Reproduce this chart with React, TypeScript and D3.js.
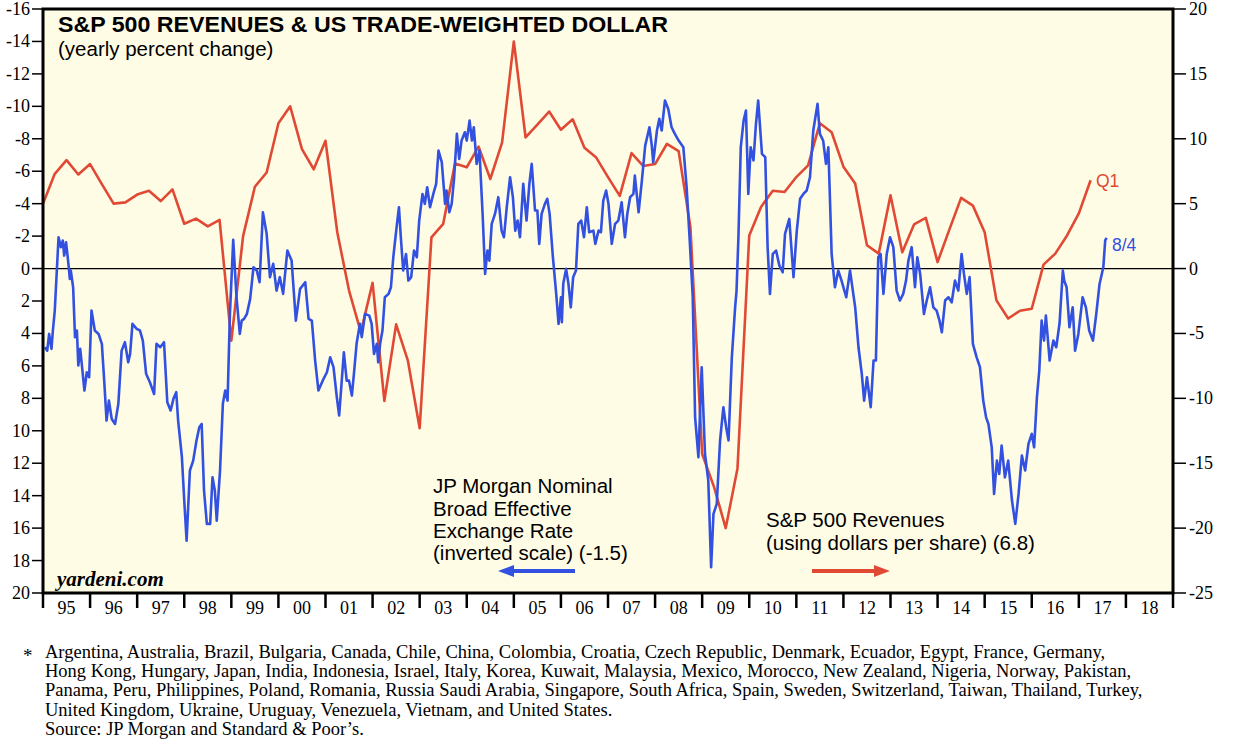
import * as d3 from 'd3'

// year boundaries for the bottom axis and the two-digit labels between them
const yearBounds = d3.range(1995, 2020)
const yearLabels = ['95', '96', '97', '98', '99', '00', '01', '02', '03', '04', '05', '06',
  '07', '08', '09', '10', '11', '12', '13', '14', '15', '16', '17', '18']

const leftTicks = [-16, -14, -12, -10, -8, -6, -4, -2, 0, 2, 4, 6, 8, 10, 12, 14, 16, 18, 20]
const rightTicks = [20, 15, 10, 5, 0, -5, -10, -15, -20, -25]

// S&P 500 revenues, yearly % change, quarterly (first point = Q4 1994, last = Q1 2017)
const revenueStart = 1995
const revenueValues = [
  5.0, 7.3, 8.35, 7.25, 8.05, 6.5, 5.0, 5.1, 5.7, 6.0, 5.2, 6.1,
  3.45, 3.85, 3.25, 3.75, -5.55, 2.5, 6.3, 7.4, 11.2, 12.5, 9.2, 7.65,
  9.85, 2.8, -1.7, -4.9, -1.1, -10.2, -4.3, -7.1, -12.3, 2.4, 3.45, 8.1,
  7.8, 9.4, 6.9, 9.7, 17.5, 10.1, 11.1, 12.1, 10.7, 11.5, 9.3, 8.55,
  7.05, 5.6, 8.9, 7.9, 8.05, 9.6, 9.05, 3.2, -14.3, -16.8, -20.0, -15.4,
  2.55, 4.75, 6.0, 5.9, 7.05, 7.95, 11.2, 10.5, 7.85, 6.55, 1.8, 1.15,
  5.65, 1.25, 3.4, 3.9, 0.5, 3.0, 5.45, 4.85, 2.8, -2.45, -3.85, -3.25,
  -3.1, 0.3, 1.15, 2.55, 4.25, 6.8,
]

// JP Morgan broad effective exchange rate, yearly % change (inverted axis): [date, value]
const dollarPoints: [number, number][] = [
  [1995.04, 4.85], [1995.09, 5.06], [1995.13, 4.03], [1995.18, 4.95], [1995.21, 3.82], [1995.25, 2.59],
  [1995.33, -1.93], [1995.38, -1.32], [1995.42, -1.73], [1995.45, -0.8], [1995.49, -1.62], [1995.54, -0.29],
  [1995.57, 0.64], [1995.59, 0.12], [1995.64, 1.15], [1995.68, 4.23], [1995.72, 3.82], [1995.75, 5.98],
  [1995.79, 4.95], [1995.82, 5.78], [1995.88, 7.52], [1995.93, 6.39], [1995.98, 6.7], [1996.03, 2.59],
  [1996.1, 3.82], [1996.18, 4.03], [1996.25, 4.64], [1996.3, 6.91], [1996.35, 9.37], [1996.4, 8.14],
  [1996.46, 9.27], [1996.53, 9.58], [1996.6, 8.34], [1996.67, 5.06], [1996.74, 4.54], [1996.81, 5.78],
  [1996.85, 5.26], [1996.9, 3.41], [1996.99, 3.72], [1997.06, 3.82], [1997.12, 4.44], [1997.19, 6.49],
  [1997.27, 7.01], [1997.36, 7.73], [1997.41, 4.64], [1997.49, 4.85], [1997.57, 4.54], [1997.64, 8.24],
  [1997.71, 8.75], [1997.77, 8.03], [1997.83, 7.62], [1997.87, 9.37], [1997.95, 11.63], [1998.0, 14.3],
  [1998.05, 16.77], [1998.12, 12.45], [1998.19, 11.84], [1998.26, 10.6], [1998.32, 9.78], [1998.37, 9.58],
  [1998.42, 13.69], [1998.48, 15.74], [1998.55, 15.74], [1998.6, 12.87], [1998.65, 13.69], [1998.69, 15.54],
  [1998.76, 12.45], [1998.82, 8.34], [1998.87, 7.52], [1998.92, 8.14], [1998.97, 2.8], [1999.04, -1.77],
  [1999.11, 1.77], [1999.18, 4.03], [1999.22, 3.21], [1999.27, 3.1], [1999.33, 2.8], [1999.4, 1.87],
  [1999.47, -0.08], [1999.54, 0.12], [1999.6, 0.84], [1999.67, -3.47], [1999.75, -2.14], [1999.82, 0.53],
  [1999.89, -0.29], [1999.96, 1.36], [2000.03, 0.53], [2000.1, 1.56], [2000.19, -1.11], [2000.28, -0.49],
  [2000.37, 3.21], [2000.46, 1.25], [2000.57, 0.84], [2000.64, 3.1], [2000.71, 3.21], [2000.78, 5.67],
  [2000.85, 7.52], [2000.94, 6.91], [2001.03, 6.39], [2001.1, 5.47], [2001.17, 6.08], [2001.24, 7.93],
  [2001.29, 9.06], [2001.34, 7.11], [2001.39, 5.16], [2001.45, 6.91], [2001.5, 6.91], [2001.56, 7.83],
  [2001.61, 6.29], [2001.66, 4.64], [2001.73, 3.41], [2001.77, 4.23], [2001.84, 2.8], [2001.93, 2.9],
  [2001.98, 3.41], [2002.03, 5.26], [2002.09, 4.64], [2002.12, 5.78], [2002.16, 4.64], [2002.21, 3.82],
  [2002.26, 1.77], [2002.34, 1.56], [2002.39, 1.15], [2002.44, -0.7], [2002.51, -2.55], [2002.56, -3.78],
  [2002.6, -1.93], [2002.65, 0.12], [2002.71, -0.9], [2002.76, 0.74], [2002.82, 0.53], [2002.88, -1.11],
  [2002.94, -0.7], [2002.99, -2.96], [2003.06, -4.6], [2003.11, -3.99], [2003.16, -5.01], [2003.22, -3.78],
  [2003.29, -4.6], [2003.35, -5.22], [2003.4, -7.27], [2003.47, -6.55], [2003.54, -3.99], [2003.57, -4.81],
  [2003.63, -3.47], [2003.68, -3.99], [2003.73, -5.53], [2003.79, -8.3], [2003.84, -6.76], [2003.89, -7.89],
  [2003.96, -8.4], [2004.0, -7.89], [2004.06, -9.12], [2004.11, -7.89], [2004.15, -8.71], [2004.21, -6.45],
  [2004.27, -7.27], [2004.34, -3.16], [2004.39, 0.33], [2004.44, -1.11], [2004.48, -0.49], [2004.53, -2.75],
  [2004.6, -3.37], [2004.67, -4.4], [2004.74, -2.34], [2004.79, -1.93], [2004.85, -3.78], [2004.92, -5.63],
  [2004.98, -4.4], [2005.03, -2.34], [2005.08, -2.96], [2005.13, -1.93], [2005.2, -5.22], [2005.27, -2.96],
  [2005.33, -5.22], [2005.38, -6.45], [2005.45, -3.58], [2005.5, -3.58], [2005.54, -1.52], [2005.59, -3.37],
  [2005.66, -3.99], [2005.71, -4.3], [2005.76, -3.37], [2005.83, -0.7], [2005.9, 1.56], [2005.95, 3.41],
  [2006.0, 1.77], [2006.02, 3.31], [2006.05, 0.94], [2006.11, 0.02], [2006.16, 0.94], [2006.21, 2.39],
  [2006.26, 0.53], [2006.32, 0.12], [2006.37, -2.75], [2006.43, -2.96], [2006.49, -1.93], [2006.55, -3.78],
  [2006.6, -2.24], [2006.69, -2.34], [2006.73, -1.52], [2006.8, -2.34], [2006.85, -2.24], [2006.9, -4.19],
  [2006.96, -4.81], [2007.01, -3.99], [2007.08, -1.52], [2007.15, -2.75], [2007.22, -2.96], [2007.29, -4.09],
  [2007.36, -1.93], [2007.41, -3.37], [2007.47, -4.4], [2007.54, -4.6], [2007.57, -5.73], [2007.65, -3.47],
  [2007.72, -5.43], [2007.79, -7.58], [2007.88, -8.71], [2007.93, -7.58], [2007.96, -6.55], [2008.04, -8.51],
  [2008.09, -9.23], [2008.14, -8.51], [2008.21, -10.36], [2008.28, -9.84], [2008.35, -8.71], [2008.42, -8.3],
  [2008.5, -7.89], [2008.6, -7.48], [2008.67, -5.01], [2008.74, -1.52], [2008.8, 1.77], [2008.85, 9.17],
  [2008.92, 11.63], [2008.99, 6.08], [2009.06, 11.43], [2009.13, 13.07], [2009.19, 18.41], [2009.24, 15.12],
  [2009.31, 14.51], [2009.38, 10.6], [2009.45, 8.55], [2009.51, 9.78], [2009.56, 10.6], [2009.63, 5.47],
  [2009.7, 2.39], [2009.73, 1.36], [2009.77, -1.93], [2009.82, -7.48], [2009.88, -9.12], [2009.93, -9.74],
  [2009.98, -4.6], [2010.03, -7.48], [2010.09, -6.66], [2010.14, -8.82], [2010.19, -10.36], [2010.27, -7.07],
  [2010.34, -6.86], [2010.39, -1.32], [2010.44, 1.56], [2010.5, -0.9], [2010.57, -1.11], [2010.64, -0.18],
  [2010.71, 0.23], [2010.76, -2.14], [2010.85, -3.06], [2010.94, 0.53], [2011.01, -2.34], [2011.08, -4.3],
  [2011.15, -4.6], [2011.22, -4.81], [2011.29, -5.63], [2011.36, -8.51], [2011.45, -10.15], [2011.5, -8.3],
  [2011.57, -7.89], [2011.63, -6.45], [2011.68, -7.48], [2011.75, -0.9], [2011.82, 1.15], [2011.89, 0.12],
  [2011.96, 0.74], [2012.06, 1.77], [2012.14, 0.12], [2012.25, 2.39], [2012.32, 4.85], [2012.39, 6.49],
  [2012.44, 8.14], [2012.5, 6.7], [2012.58, 8.55], [2012.64, 5.67], [2012.69, 5.67], [2012.74, -0.7],
  [2012.79, -0.9], [2012.85, 1.56], [2012.92, -0.9], [2012.99, -1.93], [2013.06, -1.32], [2013.13, 1.36],
  [2013.2, 1.97], [2013.27, 1.56], [2013.33, 0.74], [2013.38, -0.49], [2013.45, -1.32], [2013.52, 1.15],
  [2013.57, -0.7], [2013.63, 0.33], [2013.71, 2.8], [2013.77, 1.97], [2013.84, 1.15], [2013.91, 2.39],
  [2013.98, 2.59], [2014.04, 3.21], [2014.09, 3.93], [2014.16, 1.97], [2014.23, 1.77], [2014.3, 2.08],
  [2014.37, 0.74], [2014.44, 1.36], [2014.51, -0.9], [2014.56, 0.33], [2014.62, 1.56], [2014.68, 0.53],
  [2014.75, 4.64], [2014.83, 5.47], [2014.9, 6.08], [2014.97, 8.14], [2015.03, 9.17], [2015.08, 9.58],
  [2015.15, 11.02], [2015.2, 13.89], [2015.26, 11.84], [2015.31, 12.66], [2015.36, 10.91], [2015.43, 12.87],
  [2015.5, 11.84], [2015.58, 14.3], [2015.65, 15.74], [2015.72, 13.89], [2015.79, 11.53], [2015.86, 12.45],
  [2015.93, 10.81], [2016.0, 10.19], [2016.05, 11.02], [2016.11, 7.93], [2016.16, 6.29], [2016.21, 3.21],
  [2016.26, 4.44], [2016.3, 2.9], [2016.38, 5.67], [2016.46, 4.44], [2016.52, 4.85], [2016.59, 3.39],
  [2016.66, 0.12], [2016.69, 0.74], [2016.74, 1.15], [2016.8, 3.62], [2016.87, 2.39], [2016.92, 5.06],
  [2016.99, 4.03], [2017.08, 1.77], [2017.15, 2.39], [2017.22, 3.82], [2017.3, 4.44], [2017.37, 2.8],
  [2017.44, 0.95], [2017.52, -0.08], [2017.56, -1.73], [2017.59, -1.89],
]

const footnoteLines = [
  'Argentina, Australia, Brazil, Bulgaria, Canada, Chile, China, Colombia, Croatia, Czech Republic, Denmark, Ecuador, Egypt, France, Germany,',
  'Hong Kong, Hungary, Japan, India, Indonesia, Israel, Italy, Korea, Kuwait, Malaysia, Mexico, Morocco, New Zealand, Nigeria, Norway, Pakistan,',
  'Panama, Peru, Philippines, Poland, Romania, Russia Saudi Arabia, Singapore, South Africa, Spain, Sweden, Switzerland, Taiwan, Thailand, Turkey,',
  'United Kingdom, Ukraine, Uruguay, Venezuela, Vietnam, and United States.',
  'Source: JP Morgan and Standard & Poor\u2019s.',
]

const BLUE = '#3351e0'
const RED = '#e04a35'
const SANS = 'Liberation Sans, Arial, Helvetica, sans-serif'
const SERIF = 'Liberation Serif, Times New Roman, serif'

export default function App() {
  const W = 1253
  const H = 745
  const left = 43
  const right = 1173
  const top = 9
  const bottom = 593

  const x = d3.scaleLinear().domain([1995, 2019]).range([left, right])
  const yL = d3.scaleLinear().domain([-16, 20]).range([top, bottom])
  const yR = d3.scaleLinear().domain([20, -25]).range([top, bottom])

  const revenueLine = d3
    .line<number>()
    .x((_, i) => x(revenueStart + i * 0.25))
    .y((d) => yR(d))
  const dollarLine = d3
    .line<[number, number]>()
    .x((d) => x(d[0]))
    .y((d) => yL(d[1]))

  return (
    <svg width={W} height={H} style={{ position: 'absolute', left: 0, top: 0, background: '#fff' }}>
      <rect x={left} y={top} width={right - left} height={bottom - top} fill="#fffce6" />

      {/* zero line */}
      <line x1={left} x2={right} y1={yL(0)} y2={yL(0)} stroke="#000" strokeWidth={1.2} />

      <path d={revenueLine(revenueValues) ?? ''} fill="none" stroke={RED} strokeWidth={2.6} strokeLinejoin="round" />
      <path d={dollarLine(dollarPoints) ?? ''} fill="none" stroke={BLUE} strokeWidth={2.6} strokeLinejoin="round" />

      {/* frame */}
      <rect x={left} y={top} width={right - left} height={bottom - top} fill="none" stroke="#000" strokeWidth={3} />

      {/* left axis */}
      {leftTicks.map((t) => (
        <g key={'l' + t}>
          <line x1={32} x2={left} y1={yL(t)} y2={yL(t)} stroke="#000" strokeWidth={1.5} />
          <text x={30} y={yL(t) + 6} textAnchor="end" fontFamily={SERIF} fontSize={18}>{t}</text>
        </g>
      ))}

      {/* right axis */}
      {rightTicks.map((t) => (
        <g key={'r' + t}>
          <line x1={right} x2={1186} y1={yR(t)} y2={yR(t)} stroke="#000" strokeWidth={1.5} />
          <text x={1189} y={yR(t) + 6} fontFamily={SERIF} fontSize={18}>{t}</text>
        </g>
      ))}

      {/* bottom axis */}
      {yearBounds.map((b) => (
        <line key={'b' + b} x1={x(b)} x2={x(b)} y1={bottom} y2={bottom + 15} stroke="#000" strokeWidth={2.5} />
      ))}
      {yearLabels.map((lab, i) => (
        <text key={'y' + lab} x={x(1995 + i + 0.5)} y={bottom + 21} textAnchor="middle" fontFamily={SERIF} fontSize={18}>
          {lab}
        </text>
      ))}

      {/* titles */}
      <text x={58} y={32} fontFamily={SANS} fontWeight="bold" fontSize={22} textLength={610} lengthAdjust="spacingAndGlyphs">
        S&amp;P 500 REVENUES &amp; US TRADE-WEIGHTED DOLLAR
      </text>
      <text x={58} y={56} fontFamily={SANS} fontSize={20.5}>(yearly percent change)</text>

      {/* legends */}
      <g fontFamily={SANS} fontSize={20.5} fill="#000">
        <text x={433} y={493}>JP Morgan Nominal</text>
        <text x={433} y={516}>Broad Effective</text>
        <text x={433} y={538}>Exchange Rate</text>
        <text x={433} y={560}>(inverted scale) (-1.5)</text>
        <text x={766} y={527}>S&amp;P 500 Revenues</text>
        <text x={766} y={550}>(using dollars per share) (6.8)</text>
      </g>
      <line x1={575} x2={510} y1={571} y2={571} stroke={BLUE} strokeWidth={4} />
      <path d="M498,571 L514,565 L514,577 Z" fill={BLUE} />
      <line x1={812} x2={876} y1={571} y2={571} stroke={RED} strokeWidth={4} />
      <path d="M890,571 L874,565 L874,577 Z" fill={RED} />

      {/* end labels */}
      <text x={1096} y={187} fontFamily={SANS} fontSize={17.5} fill={RED}>Q1</text>
      <text x={1112} y={251} fontFamily={SANS} fontSize={17.5} fill={BLUE}>8/4</text>

      <text x={57} y={586} fontFamily={SERIF} fontStyle="italic" fontWeight="bold" fontSize={21}>yardeni.com</text>

      {/* footnote */}
      <text x={23} y={662} fontFamily={SERIF} fontSize={19}>*</text>
      {footnoteLines.map((line, i) => (
        <text key={i} x={45} y={658 + i * 19.2} fontFamily={SERIF} fontSize={18.5}>{line}</text>
      ))}
    </svg>
  )
}
